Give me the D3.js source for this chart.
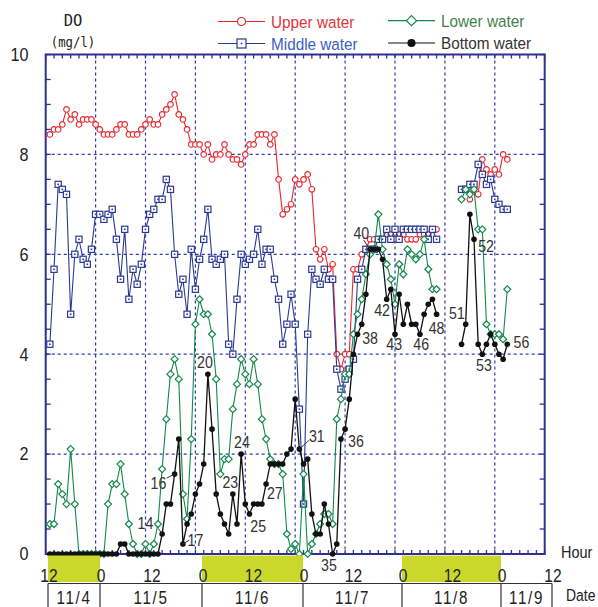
<!DOCTYPE html>
<html><head><meta charset="utf-8">
<script src="https://cdn.jsdelivr.net/npm/d3@7"></script>
<style>html,body{margin:0;padding:0;background:#fff;}svg{display:block;}</style>
</head><body>
<svg id="chart" width="598" height="607"></svg>
<script>
// ---- data: hourly DO (mg/l), first value = 13:00 on 11/4, null = no measurement ----
const upper = [8.4,8.5,8.5,8.6,8.9,8.7,8.8,8.6,8.7,8.7,
  8.7,8.6,8.5,8.4,8.4,8.4,8.5,8.6,8.6,8.4,
  8.4,8.4,8.5,8.6,8.7,8.6,8.6,8.8,8.9,9.0,
  9.2,8.8,8.7,8.5,8.2,8.2,8.2,8.0,8.2,7.9,
  8.0,8.0,8.2,8.0,7.9,7.9,7.8,8.0,8.2,8.2,
  8.4,8.4,8.4,8.2,8.4,7.5,6.8,6.9,7.0,7.5,
  7.4,7.5,7.6,7.3,6.1,5.9,6.1,5.7,5.8,4.0,
  3.7,4.0,4.0,5.7,5.7,6.0,6.1,6.3,6.3,6.3,
  6.3,6.4,6.4,6.3,6.4,6.4,6.3,6.3,6.3,6.4,
  6.4,6.4,6.5,6.5,null,null,null,null,null,null,
  null,7.1,7.3,7.2,7.9,7.7,7.6,7.7,7.6,8.0,7.9];
const middle = [4.2,5.7,7.4,7.3,7.2,4.8,6.0,6.3,5.9,5.8,
  6.1,6.8,6.8,6.7,6.8,6.9,6.3,5.5,6.5,5.1,
  5.7,5.4,5.8,6.5,6.8,6.9,7.1,7.1,7.5,7.3,
  6.0,5.2,5.5,4.8,6.1,5.3,5.9,6.3,6.9,5.9,
  5.8,5.9,6.0,4.2,4.0,5.1,6.0,5.8,5.9,6.0,
  6.5,5.8,6.1,6.1,5.5,5.1,4.2,4.6,5.2,4.6,
  2.9,1.0,4.4,5.7,5.5,5.4,5.7,5.5,5.5,3.7,
  3.3,3.5,3.7,3.9,5.5,5.7,6.1,6.1,6.1,6.3,
  6.3,6.5,6.3,6.5,6.3,6.5,6.5,6.5,6.5,6.5,
  6.5,6.3,6.5,6.3,null,null,null,null,null,7.3,
  7.3,7.4,7.4,7.8,7.6,7.4,7.5,7.1,7.0,6.9,6.9];
const lower = [0.6,0.6,1.4,1.2,1.0,2.1,1.0,0,0,0,
  0,0,0,0,1.0,1.4,1.4,1.8,1.2,0.6,
  0.2,0,0,0.2,0,0.2,0.6,1.7,2.7,3.6,
  3.9,3.5,1.2,0.7,2.3,4.6,5.1,4.8,4.8,4.4,
  3.5,1.6,1.9,1.9,2.9,3.4,3.9,3.6,3.4,3.9,
  3.4,2.7,2.3,1.9,1.8,1.8,1.6,0.4,0.1,0.2,
  0,1.6,0,0.2,0.4,0.6,0.8,0.8,0.6,2.7,
  3.1,3.6,3.6,4.4,4.8,5.1,5.6,6.0,6.1,6.8,
  6.1,5.8,5.5,5.0,5.8,5.6,6.1,6.0,5.9,6.0,
  6.3,5.7,5.3,5.3,null,null,null,null,null,7.1,
  7.3,7.2,7.3,6.5,6.5,4.6,4.4,4.4,4.4,4.3,5.3];
const bottom = [0,0,0,0,0,0,0,0,0,0,
  0,0,0,0,0,0,0,0.2,0.2,0,
  0,0,0,0,0,0,0,0.4,1.0,1.0,
  1.6,2.3,0.2,0.6,0.8,1.2,1.4,1.8,3.6,2.5,
  1.2,0.8,0.6,0.4,1.2,0.6,2.0,1.0,0.8,1.0,
  1.0,1.0,1.4,1.8,1.8,1.8,1.8,2.0,2.1,3.1,
  2.1,1.8,1.9,0.8,0.4,0.4,1.0,0.6,0,0.2,
  2.3,2.5,3.1,4.0,4.4,4.6,5.2,6.1,6.1,6.1,
  5.9,5.1,5.3,4.4,5.2,4.6,5.0,4.6,4.6,4.4,
  4.8,5.0,5.1,4.8,null,null,null,null,null,4.2,
  4.6,6.8,6.3,4.2,4.0,4.2,4.4,4.2,4.0,3.9,4.2];
const seriesNames = ["Upper water","Middle water","Lower water","Bottom water"];

// sample-number annotations (position in hours / mg/l)
const labelText = ["14","16","17","20","23","24","25","27","31","35","36","38","40","42","43","46","48","51","52","53","56"];
const labelHour = [24.0,27.1,36.0,38.3,44.4,47.2,51.1,55.1,65.2,68.1,74.6,78.0,75.9,80.9,83.8,90.3,94.0,98.9,105.9,105.4,114.4];
const labelVal  = [0.63,1.43,0.28,3.85,1.45,2.25,0.56,1.22,2.36,-0.22,2.26,4.32,6.42,4.88,4.20,4.20,4.52,4.82,6.17,3.78,4.25];
// leader lines: from (hour,val) to bottom-water sample at hour
const leaderFromHour = [27.1,29.1,34.5,63.4,76.4];
const leaderFromVal  = [0.51,1.52,0.28,2.28,6.29];
const leaderToHour   = [28,31,33,61,78];

// time axis
const yTicks = [0,2,4,6,8,10];
const hourTickHours = [0,12,24,36,48,60,72,84,96,108,120];
const hourTickText  = ["12","0","12","0","12","0","12","0","12","0","12"];
const dateBounds = [0,12,36,60,84,108,120];
const dateText = ["11/4","11/5","11/6","11/7","11/8","11/9"];
const nightStart = [0,36,84];
const nightEnd   = [12,60,108];

// ---- drawing ----
const svg = d3.select("#chart");
const navy = "#2e3192";
const colors = ["#e8262d","#2b3990","#12894a","#111111"];
const textColors = ["#e0353c","#3a5fbf","#3f7f52","#333333"];
const x = d3.scaleLinear().domain([0,120]).range([45.7,544.7]);
const y = d3.scaleLinear().domain([0,10]).range([554,54.5]);
const xs = d3.scaleLinear().domain(dateBounds).range([48,100,202,303,402,501,552]);
const FONT = "'Liberation Sans', Arial, sans-serif";

function ntext(g, px, py, str, size, sx, anchor, fill, extra) {
  const t = g.append("text")
    .attr("transform", `translate(${px},${py}) scale(${sx},1)`)
    .attr("text-anchor", anchor).attr("font-family", FONT)
    .attr("font-size", size).attr("fill", fill).text(str);
  if (extra) extra(t);
  return t;
}

// grid
const grid = svg.append("g").attr("stroke", "#3338a8").attr("stroke-width", 1.2).attr("stroke-dasharray", "3,3");
grid.selectAll("line.v").data(d3.range(12,120,12)).join("line")
  .attr("x1", d=>x(d)).attr("x2", d=>x(d)).attr("y1", y(10)).attr("y2", y(0));
grid.selectAll("line.h").data([2,4,6,8]).join("line")
  .attr("x1", x(0)).attr("x2", x(120)).attr("y1", d=>y(d)).attr("y2", d=>y(d));

// ticks
const tk = svg.append("g").attr("stroke", navy).attr("stroke-width", 1.3);
const hTicks = d3.range(0,121,2), vTicks = d3.range(0,10.01,0.5);
tk.selectAll("line.t").data(hTicks).join("line").attr("x1",d=>x(d)).attr("x2",d=>x(d)).attr("y1",y(10)).attr("y2",y(10)+4);
tk.selectAll("line.b").data(hTicks).join("line").attr("class","b").attr("x1",d=>x(d)).attr("x2",d=>x(d)).attr("y1",y(0)).attr("y2",y(0)-4);
tk.selectAll("line.l").data(vTicks).join("line").attr("class","l").attr("x1",x(0)).attr("x2",x(0)+5).attr("y1",d=>y(d)).attr("y2",d=>y(d));
tk.selectAll("line.r").data(vTicks).join("line").attr("class","r").attr("x1",x(120)).attr("x2",x(120)-5).attr("y1",d=>y(d)).attr("y2",d=>y(d));
svg.append("rect").attr("x",x(0)).attr("y",y(10)).attr("width",x(120)-x(0)).attr("height",y(0)-y(10))
  .attr("fill","none").attr("stroke",navy).attr("stroke-width",2);

// markers
function marker(g, shape, color, s) {
  if (shape === "circle") g.append("circle").attr("r", 2.8*s).attr("fill","#fff").attr("stroke",color).attr("stroke-width",1.1);
  else if (shape === "square") {
    g.append("rect").attr("x",-3.1*s).attr("y",-3.1*s).attr("width",6.2*s).attr("height",6.2*s).attr("fill","#fff").attr("stroke",color).attr("stroke-width",1.2);
    g.append("rect").attr("x",-0.8).attr("y",-0.8).attr("width",1.6).attr("height",1.6).attr("fill",color);
  } else if (shape === "diamond") {
    const r = 3.5*s;
    g.append("path").attr("d",`M0,${-r}L${r},0L0,${r}L${-r},0Z`).attr("fill","#fff").attr("stroke",color).attr("stroke-width",1.2);
  } else g.append("circle").attr("r", 2.8*s).attr("fill",color);
}
const shapes = ["circle","square","diamond","dot"];
const allSeries = [upper, middle, lower, bottom];
allSeries.forEach((vals, si) => {
  const pts = vals.map((v,i)=>({t:i+1, v}));
  const line = d3.line().defined(d=>d.v!==null).x(d=>x(d.t)).y(d=>y(d.v));
  const g = svg.append("g");
  g.append("path").attr("d", line(pts)).attr("fill","none").attr("stroke",colors[si]).attr("stroke-width", si===3?1.3:1.1);
  g.selectAll("g.m").data(pts.filter(d=>d.v!==null)).join("g")
    .attr("transform", d=>`translate(${x(d.t)},${y(d.v)})`)
    .each(function(){ marker(d3.select(this), shapes[si], colors[si], 1); });
});

// annotations
const ann = svg.append("g");
leaderToHour.forEach((h,i) => {
  ann.append("line").attr("x1", x(leaderFromHour[i])).attr("y1", y(leaderFromVal[i]))
    .attr("x2", x(h)).attr("y2", y(bottom[h-1])).attr("stroke","#333").attr("stroke-width",1);
});
labelText.forEach((s,i) => {
  ntext(ann, x(labelHour[i]), y(labelVal[i]) + 6, s, 16.5, 0.86, "middle", "#333");
});

// y labels
yTicks.forEach(v => ntext(svg, 28.5, y(v)+6.3, String(v), 18, 0.9, "end", "#222"));
svg.append("text").attr("x",73).attr("y",26).attr("text-anchor","middle").attr("font-family","'DejaVu Sans Mono', monospace").attr("font-size",15.5).attr("fill","#222").text("DO");
ntext(svg, 73, 47, "(mg/l)", 14, 0.88, "middle", "#222", t=>t.attr("font-family","'DejaVu Sans Mono', monospace"));

// legend
const legPos = [[218,21.5],[218,43.5],[388,20.7],[388,43]];
seriesNames.forEach((n,i) => {
  const [lx,ly] = legPos[i];
  const g = svg.append("g");
  g.append("line").attr("x1",lx).attr("x2",lx+47).attr("y1",ly).attr("y2",ly).attr("stroke",colors[i]).attr("stroke-width",1.2);
  marker(g.append("g").attr("transform",`translate(${lx+23.5},${ly})`), shapes[i], colors[i], 1.45);
  ntext(g, lx+53, ly+6, n, 17, 0.9, "start", textColors[i]);
});

// time strip
svg.selectAll("rect.night").data(nightStart).join("rect").attr("class","night")
  .attr("x", d=>xs(d)).attr("y",555.5).attr("width",(d,i)=>xs(nightEnd[i])-xs(d)).attr("height",26.5).attr("fill","#c9d82b");
hourTickHours.forEach((h,i) => ntext(svg, xs(h)+1, 582, hourTickText[i], 19, 0.82, "middle", "#222"));
svg.append("line").attr("x1",xs(0)).attr("x2",xs(120)).attr("y1",583.5).attr("y2",583.5).attr("stroke","#333").attr("stroke-width",1.2);
svg.selectAll("line.sep").data(dateBounds).join("line").attr("class","sep")
  .attr("x1",d=>xs(d)).attr("x2",d=>xs(d)).attr("y1",583.5).attr("y2",607).attr("stroke","#333").attr("stroke-width",1.2);
dateText.forEach((s,i) => ntext(svg, (xs(dateBounds[i])+xs(dateBounds[i+1]))/2, 603.5, s, 18.5, 0.82, "middle", "#222", t=>t.attr("letter-spacing",2)));
ntext(svg, 561, 558, "Hour", 17, 0.85, "start", "#222");
ntext(svg, 566, 601, "Date", 17, 0.82, "start", "#222");
</script>
</body></html>
